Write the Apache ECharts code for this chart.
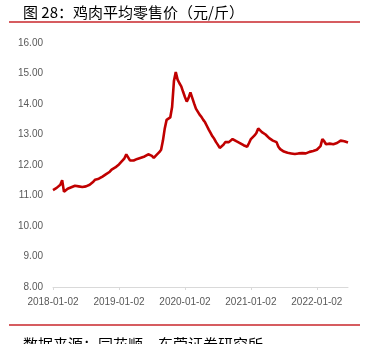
<!DOCTYPE html>
<html><head><meta charset="utf-8">
<script src="https://cdn.jsdelivr.net/npm/echarts@6/dist/echarts.min.js"></script>
<style>html,body{margin:0;padding:0;background:#fff}#c{width:375px;height:344px}</style>
</head><body><div id="c"></div>
<script>
// Categories: sample dates (2nd, 12th, 22nd of each month), 2018-01 .. 2022-06
var months = [];
for (var y = 2018; y <= 2022; y++) { for (var m = 1; m <= 12; m++) { if (y === 2022 && m > 6) break; months.push(y + '-' + (m < 10 ? '0' + m : m)); } }
var days = ['02', '12', '22'];
var dates = [];
months.forEach(function (mm) { days.forEach(function (d) { dates.push(mm + '-' + d); }); });

var priceValues = [
11.18,11.2,11.25,11.28,11.35,11.5,11.12,11.18,11.22,11.2,
11.27,11.3,11.32,11.28,11.3,11.26,11.28,11.25,11.3,11.31,
11.35,11.4,11.45,11.52,11.57,11.55,11.6,11.62,11.66,11.7,
11.74,11.78,11.85,11.88,11.92,11.97,12.02,12.08,12.15,12.22,
12.35,12.25,12.15,12.1,12.15,12.18,12.2,12.18,12.24,12.26,
12.28,12.3,12.35,12.39,12.3,12.23,12.3,12.35,12.42,12.5,
12.8,13.2,13.48,13.5,13.56,13.9,14.75,15.05,14.8,14.68,
14.58,14.4,14.23,14.08,14.2,14.38,14.2,14.02,13.85,13.75,
13.65,13.58,13.48,13.4,13.28,13.16,13.05,12.94,12.86,12.75,
12.66,12.56,12.5,12.66,12.75,12.7,12.75,12.8,12.85,12.83,
12.78,12.75,12.72,12.68,12.65,12.6,12.6,12.72,12.85,12.88,
12.97,13.05,13.2,13.15,13.08,13.04,13.0,12.96,12.88,12.84,
12.8,12.77,12.75,12.6,12.52,12.47,12.44,12.42,12.4,12.39,
12.38,12.4,12.36,12.36,12.38,12.37,12.39,12.4,12.38,12.42,
12.43,12.42,12.46,12.47,12.5,12.55,12.62,12.85,12.78,12.68,
12.65,12.7,12.72,12.68,12.65,12.72,12.76,12.8,12.75,12.78,
12.76,12.74
];
var xTickLabels = ['2018-01-02', '2019-01-02', '2020-01-02', '2021-01-02', '2022-01-02'];
var titleText = '图 28：鸡肉平均零售价（元/斤）';
var sourceText = '数据来源：同花顺，东莞证券研究所';

var chart = echarts.init(document.getElementById('c'), null, { renderer: 'canvas' });
var narrow = "'Liberation Sans Narrow','Liberation Sans',Arial,sans-serif";
function isTick(i, v) { return xTickLabels.indexOf(v) >= 0; }
chart.setOption({
  animation: false,
  backgroundColor: '#fff',
  title: [
    { text: titleText, left: 18, top: 0, textStyle: { fontSize: 15, fontWeight: 'normal', color: '#000', fontFamily: "'Noto Sans CJK SC',sans-serif" } },
    { text: sourceText, left: 18, top: 332, textStyle: { fontSize: 15, fontWeight: 'normal', color: '#000', fontFamily: "'Noto Sans CJK SC',sans-serif" } }
  ],
  graphic: [
    { type: 'line', shape: { x1: 9, y1: 22, x2: 360, y2: 22 }, style: { stroke: '#c9262b', lineWidth: 1.5 } },
    { type: 'line', shape: { x1: 9, y1: 325, x2: 360, y2: 325 }, style: { stroke: '#c9262b', lineWidth: 1.5 } }
  ],
  grid: { left: 53, right: 27, top: 43, bottom: 57, containLabel: false },
  xAxis: {
    type: 'category', data: dates, boundaryGap: false,
    axisLine: { lineStyle: { color: '#d9d9d9', width: 1 } },
    axisTick: { show: true, interval: isTick, length: 3, lineStyle: { color: '#d9d9d9' } },
    axisLabel: { interval: isTick, color: '#595959', fontSize: 10, fontFamily: narrow, margin: 10 },
    splitLine: { show: false }
  },
  yAxis: {
    type: 'value', min: 8, max: 16, interval: 1,
    axisLine: { show: false }, axisTick: { show: false },
    splitLine: { show: false },
    axisLabel: { color: '#595959', fontSize: 10, fontFamily: narrow, margin: 10, formatter: function (v) { return v.toFixed(2); } }
  },
  series: [{
    type: 'line', data: priceValues, symbol: 'none', smooth: false,
    lineStyle: { color: '#c00000', width: 2.6 }
  }]
});
</script></body></html>
